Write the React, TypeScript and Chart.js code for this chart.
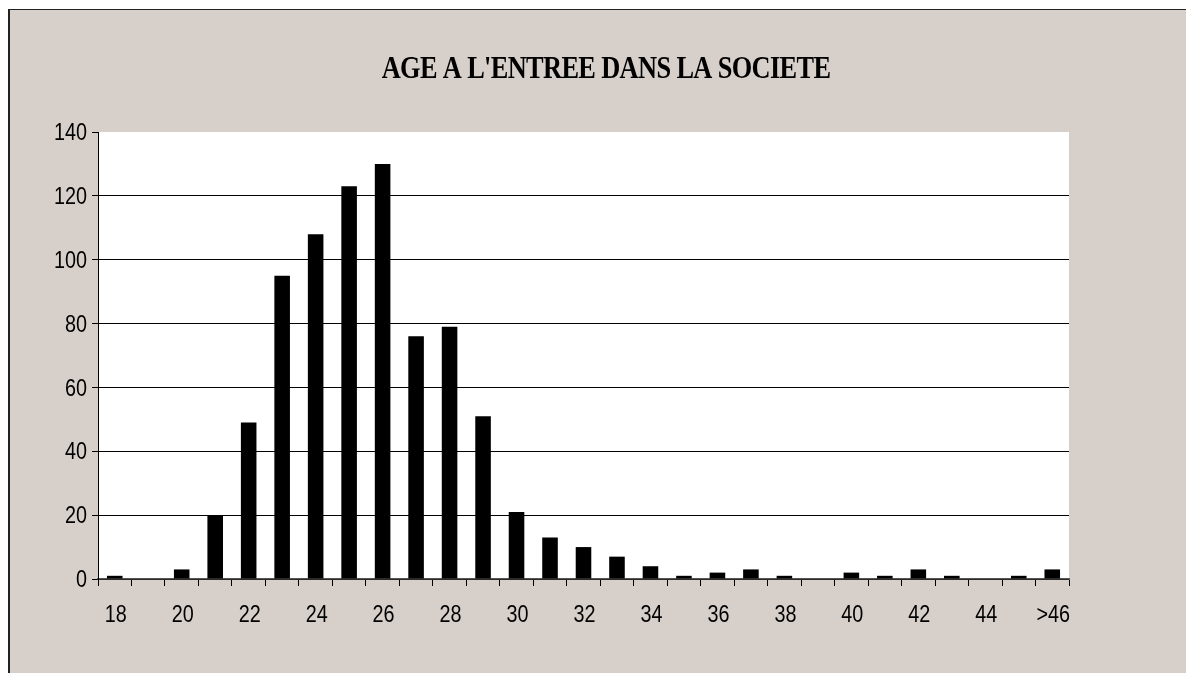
import React, { useEffect, useRef } from "react";
import { Chart, registerables } from "chart.js";

Chart.register(...registerables);

const TITLE = "AGE A L'ENTREE DANS LA SOCIETE";
const AGES = ["18", "19", "20", "21", "22", "23", "24", "25", "26", "27", "28", "29", "30", "31", "32", "33", "34", "35", "36", "37", "38", "39", "40", "41", "42", "43", "44", "45", ">46"];
const COUNTS = [1, 0, 3, 20, 49, 95, 108, 123, 130, 76, 79, 51, 21, 13, 10, 7, 4, 1, 2, 3, 1, 0, 2, 1, 3, 1, 0, 1, 3];
const Y_MIN = 0;
const Y_MAX = 140;
const Y_STEP = 20;

const CANVAS_W = 1176;
const CANVAS_H = 663;
const TICK_FONT = '23px "Liberation Sans", Arial, sans-serif';
const TICK_SX = 0.86;

const plotBg = {
  id: "plotBg",
  beforeDraw(chart: any) {
    const { ctx, chartArea } = chart;
    ctx.save();
    ctx.fillStyle = "#ffffff";
    ctx.fillRect(chartArea.left, chartArea.top, chartArea.right - chartArea.left, chartArea.bottom - chartArea.top);
    ctx.restore();
  },
};

const narrowTicks = {
  id: "narrowTicks",
  afterDraw(chart: any) {
    const { ctx } = chart;
    const xs = chart.scales.x;
    const ys = chart.scales.y;
    ctx.save();
    ctx.font = TICK_FONT;
    ctx.fillStyle = "#000";
    ctx.textBaseline = "alphabetic";
    // y labels
    ctx.textAlign = "right";
    ys.ticks.forEach((t: any) => {
      const y = ys.getPixelForValue(t.value);
      ctx.save();
      ctx.translate(ys.right - 11, y + 8.2);
      ctx.scale(TICK_SX, 1);
      ctx.fillText(String(t.value), 0, 0);
      ctx.restore();
    });
    // x labels
    ctx.textAlign = "center";
    AGES.forEach((lab, i) => {
      if (i % 2 !== 0) return;
      const x = xs.getPixelForValue(i);
      ctx.save();
      ctx.translate(x + 1, xs.top + 42.5);
      ctx.scale(TICK_SX, 1);
      ctx.fillText(lab, 0, 0);
      ctx.restore();
    });
    ctx.restore();
  },
};

const titlePlugin = {
  id: "tightTitle",
  afterDraw(chart: any) {
    const { ctx } = chart;
    ctx.save();
    ctx.font = 'bold 31px "Liberation Serif", "Times New Roman", serif';
    (ctx as any).letterSpacing = "-0.75px";
    ctx.textAlign = "center";
    ctx.textBaseline = "alphabetic";
    ctx.fillStyle = "#000";
    ctx.translate(596, 68.3);
    ctx.scale(0.85, 1);
    ctx.fillText(TITLE, 0, 0);
    ctx.restore();
  },
};

export default function App() {
  const ref = useRef<HTMLCanvasElement | null>(null);
  useEffect(() => {
    if (!ref.current) return;
    const chart = new Chart(ref.current, {
      type: "bar",
      data: {
        labels: AGES,
        datasets: [
          {
            data: COUNTS,
            backgroundColor: "#000",
            borderWidth: 0,
            barPercentage: 0.465,
            categoryPercentage: 1,
          },
        ],
      },
      plugins: [plotBg, narrowTicks, titlePlugin],
      options: {
        responsive: false,
        animation: false,
        layout: { padding: { top: 122, right: 117, bottom: 0, left: 0 } },
        plugins: { legend: { display: false }, tooltip: { enabled: false }, title: { display: false } },
        scales: {
          x: {
            grid: { display: true, drawOnChartArea: false, drawTicks: true, tickLength: 7, tickColor: "#000", offset: true },
            border: { display: true, color: "#555", width: 1.5 },
            ticks: { display: false, autoSkip: false },
            afterFit: (s: any) => {
              s.height = CANVAS_H - 569;
            },
          },
          y: {
            min: Y_MIN,
            max: Y_MAX,
            grid: {
              color: (c: any) => (c.tick && c.tick.value === Y_MAX ? "rgba(0,0,0,0)" : "#000"),
              tickColor: "#000",
              tickLength: 6,
              lineWidth: 1,
            },
            border: { display: true, color: "#000", width: 1 },
            ticks: { display: false, stepSize: Y_STEP },
            afterFit: (s: any) => {
              s.width = 88;
            },
          },
        },
      },
    });
    return () => chart.destroy();
  }, []);

  return (
    <div
      style={{
        position: "fixed",
        left: 8,
        top: 9,
        right: 0,
        bottom: 0,
        background: "#D7CFC9",
        borderLeft: "2px solid #222",
        borderTop: "1px solid #222",
        overflow: "hidden",
      }}
    >
      <canvas ref={ref} width={CANVAS_W} height={CANVAS_H} style={{ display: "block" }} />
    </div>
  );
}
